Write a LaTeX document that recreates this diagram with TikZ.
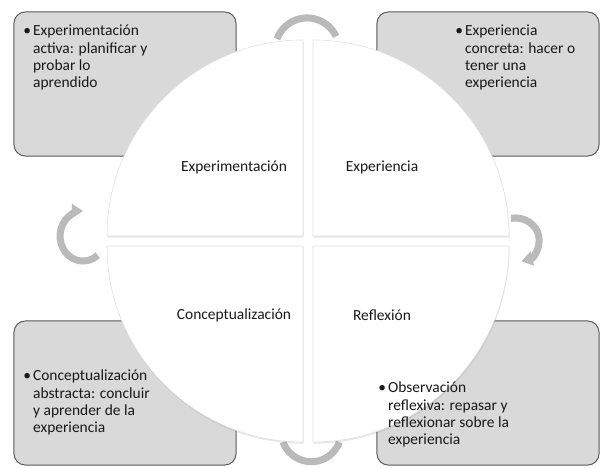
\documentclass[tikz,border=0pt]{standalone}
\usepackage{fontspec}
\setmainfont{Carlito}
\usetikzlibrary{positioning,arrows.meta,shadows}

\newcommand{\bul}[1]{\begin{tabular}[t]{@{}l@{\hspace{1.5pt}}l@{}}\textbullet & #1\end{tabular}}

\begin{document}
\begin{tikzpicture}[x=0.025cm,y=0.025cm,
    font=\fontsize{11}{12.1}\selectfont,
    box/.style={draw=black!65,line width=0.7pt,fill=black!15,rounded corners=8pt,
      minimum width=5.55cm,minimum height=3.6cm,inner sep=0pt},
    sector/.style={fill=white,draw=black!12,line width=0.4pt,
      drop shadow={opacity=0.18,shadow xshift=0.4pt,shadow yshift=-1.2pt}},
    band/.style={draw=black!27,line width=5pt},
    turn/.style={band,-{Triangle[length=8pt,width=10pt]}},
    lbl/.style={text=black!90,inner sep=1pt},
    txt/.style={anchor=base west,inner sep=0pt,text=black!90}]

  \useasboundingbox (0,0) rectangle (600,468);

  \node[box] (act)  at (125,384) {};
  \node[box] (conc) at (488,384) {};
  \node[box] (abst) at (125,75)  {};
  \node[box] (refl) at (488,75)  {};

  \coordinate (c1) at (277,429);
  \coordinate (c2) at (283,26);
  \coordinate (c3) at (97.8,212.8);
  \coordinate (c4) at (511,249.7);
  \draw[band] (c1) arc[start angle=160,end angle=25,radius=32];
  \draw[band] (c2) arc[start angle=200,end angle=340,radius=30];
  \draw[turn] (c3) arc[start angle=-50,end angle=-270,x radius=23,y radius=25];
  \draw[turn] (c4) arc[start angle=100,end angle=-75,x radius=24,y radius=22];

  \draw[sector] (313,232) -- ++(196,0) arc[start angle=0,end angle=90,radius=196] -- cycle;
  \draw[sector] (303,232) -- ++(0,196) arc[start angle=90,end angle=180,radius=196] -- cycle;
  \draw[sector] (303,222) -- ++(-196,0) arc[start angle=180,end angle=270,radius=196] -- cycle;
  \draw[sector] (313,222) -- ++(0,-196) arc[start angle=270,end angle=360,radius=196] -- cycle;

  \node[lbl] (expm) at (234,301) {Experimentación};
  \node[lbl] (expc) at (382,301) {Experiencia};
  \node[lbl] (cptl) at (234,153) {Conceptualización};
  \node[lbl] (rflx) at (382,153) {Reflexión};

  \node[txt] (act-t)  at (23,432)  {\bul{Experimentación\\ & activa: planificar y\\ & probar lo\\ & aprendido}};
  \node[txt] (conc-t) at (455,432) {\bul{Experiencia\\ & concreta: hacer o\\ & tener una\\ & experiencia}};
  \node[txt] (abst-t) at (23,87)   {\bul{Conceptualización\\ & abstracta: concluir\\ & y aprender de la\\ & experiencia}};
  \node[txt] (refl-t) at (378,75)  {\bul{Observación\\ & reflexiva: repasar y\\ & reflexionar sobre la\\ & experiencia}};
\end{tikzpicture}
\end{document}
